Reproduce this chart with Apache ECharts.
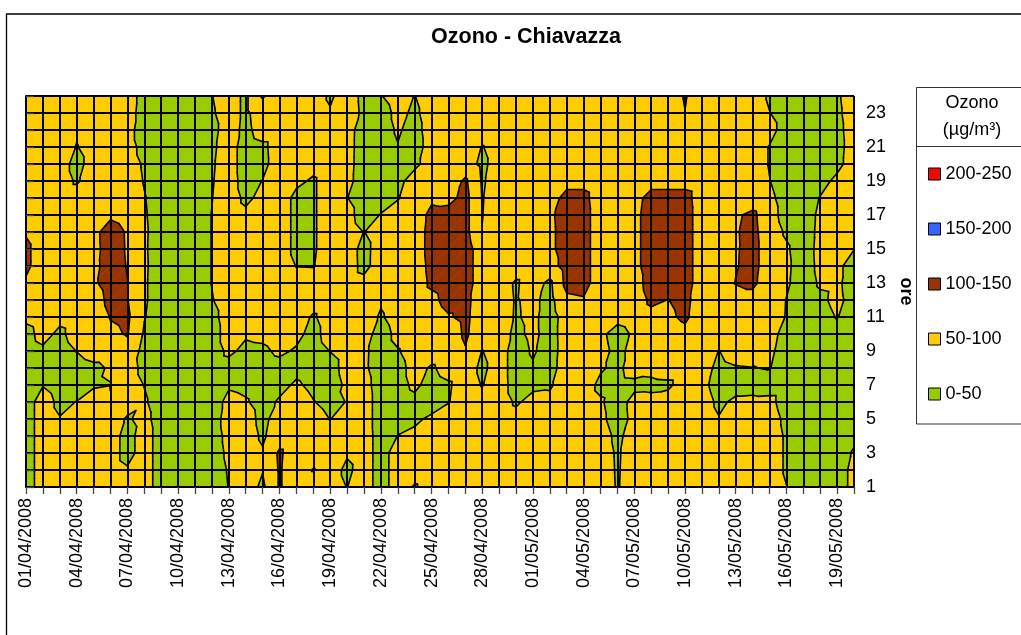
<!DOCTYPE html>
<html>
<head>
<meta charset="utf-8">
<title>Ozono - Chiavazza</title>
<script src="https://cdn.jsdelivr.net/npm/echarts@6.0.0/dist/echarts.min.js"></script>
<style>
  html, body { margin: 0; padding: 0; background: #fff; }
  #grafico { width: 1021px; height: 635px; }
</style>
</head>
<body>
<div id="grafico"></div>
<script>
// asse x: giorni, asse y: ore
const giorni = [
  '01/04/2008', '02/04/2008', '03/04/2008', '04/04/2008', '05/04/2008', '06/04/2008', '07/04/2008', '08/04/2008', '09/04/2008', '10/04/2008',
  '11/04/2008', '12/04/2008', '13/04/2008', '14/04/2008', '15/04/2008', '16/04/2008', '17/04/2008', '18/04/2008', '19/04/2008', '20/04/2008',
  '21/04/2008', '22/04/2008', '23/04/2008', '24/04/2008', '25/04/2008', '26/04/2008', '27/04/2008', '28/04/2008', '29/04/2008', '30/04/2008',
  '01/05/2008', '02/05/2008', '03/05/2008', '04/05/2008', '05/05/2008', '06/05/2008', '07/05/2008', '08/05/2008', '09/05/2008', '10/05/2008',
  '11/05/2008', '12/05/2008', '13/05/2008', '14/05/2008', '15/05/2008', '16/05/2008', '17/05/2008', '18/05/2008', '19/05/2008', '20/05/2008'
]
const ore = [1, 2, 3, 4, 5, 6, 7, 8, 9, 10, 11, 12, 13, 14, 15, 16, 17, 18, 19, 20, 21, 22, 23, 24]

// ozono (µg/m3) stimato per ora, un valore per giorno
const h01 = [30,70,70,70,70,70,70,70,30,30, 30,30,51,70,42,105,70,70,70,49, 70,32,70,46,70,70,70,70,70,70, 70,70,70,70,70,47,70,70,70,70, 70,70,70,70,70,51,30,30,30,62]
const h02 = [30,70,70,70,70,70,55,70,30,30, 30,30,53,70,52,105,70,48,70,40, 70,32,70,70,70,70,70,70,70,70, 70,70,70,70,70,46,70,70,70,70, 70,70,70,70,70,45,30,30,30,62]
const h03 = [30,70,70,70,70,70,34,70,30,30, 30,30,58,70,54,108,70,70,70,55, 70,32,70,70,70,70,70,70,70,70, 70,70,70,70,70,45,70,70,70,70, 70,70,70,70,70,45,30,30,30,55]
const h04 = [30,70,70,70,70,70,34,70,30,30, 30,30,62,70,44,72,70,70,70,70, 70,32,51,60,70,70,70,70,70,70, 70,70,70,70,70,40,70,70,70,70, 70,70,70,70,70,45,30,30,30,40]
const h05 = [30,70,52,70,70,70,45,63,30,30, 30,30,68,68,38,70,70,70,49,70, 70,30,35,42,58,70,70,70,70,62, 70,70,70,70,60,30,62,70,70,70, 70,52,70,70,70,40,30,30,30,30]
const h06 = [30,70,40,51,70,52,70,55,30,30, 30,30,62,54,35,55,70,52,35,52, 70,30,30,40,30,48,70,70,70,45, 62,60,70,70,55,30,65,62,70,70, 70,42,58,60,62,30,30,30,30,30]
const h07 = [30,48,30,35,45,49,70,49,30,30, 30,30,45,40,32,38,56,40,25,60, 65,30,35,58,35,45,70,48,70,32, 42,45,70,70,40,35,38,40,42,70, 62,32,35,35,30,30,30,30,30,30]
const h08 = [30,30,30,30,40,55,70,38,30,30, 30,30,35,30,30,35,38,30,30,70, 57,30,35,65,45,65,70,41,70,30, 45,35,70,70,55,40,70,62,70,70, 70,38,47,49,52,30,30,30,30,30]
const h09 = [30,42,30,51,70,70,85,34,30,30, 30,30,58,40,42,58,45,30,51,70, 58,30,47,70,70,70,96,49,70,30, 55,32,70,70,62,40,62,70,70,70, 70,49,70,70,58,32,30,30,30,30]
const h10 = [35,65,40,70,70,92,103,45,30,30, 30,30,70,55,60,70,62,35,70,70, 70,30,62,70,70,70,108,70,70,40, 60,33,70,70,58,35,56,70,70,85, 70,70,70,70,62,38,30,30,30,30]
const h11 = [60,70,62,70,70,102,108,52,30,30, 30,37,70,70,70,70,70,45,70,70, 70,45,70,70,70,95,112,70,70,46, 60,30,70,70,70,62,70,85,90,110, 70,70,70,70,70,48,30,35,52,30]
const h12 = [70,70,70,70,75,115,102,55,30,30, 30,48,70,70,70,70,70,70,70,70, 70,55,70,70,85,120,115,70,70,47, 60,35,90,95,70,70,70,110,99,115, 70,70,80,80,70,49,30,42,60,35]
const h13 = [92,70,70,70,93,120,101,55,30,30, 30,51,70,70,70,70,70,70,70,70, 62,70,70,70,110,125,125,70,70,45, 70,40,115,120,70,70,75,125,125,125, 70,70,102,112,70,56,30,55,58,30]
const h14 = [112,70,70,70,88,120,98,56,30,30, 30,51,70,70,70,70,49,48,70,70, 38,70,70,70,115,125,125,70,70,70, 70,80,120,120,70,70,85,125,125,125, 70,70,96,118,70,58,30,60,58,35]
const h15 = [112,70,70,70,85,122,96,55,30,30, 30,51,70,70,70,70,40,45,70,70, 37,70,70,70,120,125,125,70,70,70, 70,90,120,120,70,70,85,125,125,125, 70,70,95,118,70,55,30,62,70,51]
const h16 = [95,70,70,70,85,125,95,56,30,30, 30,51,70,70,70,70,40,45,70,70, 49,70,70,70,120,125,115,51,70,70, 70,90,120,120,70,70,85,125,125,125, 70,70,96,115,70,45,30,60,70,70]
const h17 = [70,70,70,70,70,90,75,54,30,30, 30,51,70,58,70,70,40,45,70,65, 30,52,70,70,115,120,115,49,70,70, 70,92,120,120,70,70,85,125,125,125, 70,70,92,112,65,35,30,58,70,70]
const h18 = [70,70,70,70,70,70,70,52,30,30, 30,49,70,42,60,70,40,45,70,51, 30,30,47,70,90,85,115,48,70,70, 70,80,115,115,70,70,80,120,120,120, 70,70,70,70,58,35,30,52,70,70]
const h19 = [70,70,70,45,70,70,70,48,30,30, 30,47,70,33,51,70,58,45,70,62, 30,30,37,70,70,70,108,45,70,70, 70,70,85,85,70,70,70,80,80,80, 70,70,70,70,51,30,30,35,60,70]
const h20 = [70,70,70,35,70,70,70,45,30,30, 30,45,70,30,39,70,70,62,70,64, 30,30,30,40,70,70,70,40,70,70, 70,70,70,70,70,70,70,70,70,70, 70,70,70,70,48,30,30,30,38,70]
const h21 = [70,70,70,48,70,70,70,34,30,30, 30,42,70,30,41,70,70,70,70,65, 30,30,48,30,70,70,70,48,70,70, 70,70,70,70,70,70,70,70,70,70, 70,70,70,70,48,30,30,30,35,70]
const h22 = [70,70,70,56,70,70,70,22,30,30, 30,37,70,38,70,70,70,70,70,66, 30,30,55,35,70,70,70,70,70,70, 70,70,70,70,70,70,70,70,70,70, 70,70,70,70,65,30,30,30,38,70]
const h23 = [70,70,70,70,70,70,70,30,30,30, 30,45,70,41,75,70,70,70,54,70, 42,30,62,42,70,70,70,70,70,70, 70,70,70,70,70,70,70,70,70,99, 70,70,70,70,51,30,30,30,42,70]
const h24 = [70,70,70,70,70,70,70,34,30,30, 30,49,70,41,105,70,70,70,44,70, 40,48,70,49,70,70,70,70,70,70, 70,70,70,70,70,70,70,70,70,104, 70,70,70,70,45,30,30,30,45,70]

// fasce della legenda (dall'alto in basso)
const fasce = ['200-250', '150-200', '100-150', '50-100', '0-50']
const limiti = [[200, 250], [150, 200], [100, 150], [50, 100], [0, 50]]
const isolinee = [50, 100, 150, 200]

const colori = ['#FF0000', '#3366FF', '#993300', '#FFCC00', '#99CC00']
const font = 'Liberation Sans, Arial, sans-serif'

const ozono = [h01, h02, h03, h04, h05, h06, h07, h08, h09, h10, h11, h12,
  h13, h14, h15, h16, h17, h18, h19, h20, h21, h22, h23, h24]

// una cella per ogni riquadro della griglia (giorno, ora)
const celle = []
for (let h = 1; h < ore.length; h++) {
  for (let d = 0; d < giorni.length - 1; d++) celle.push([d, ore[h - 1]])
}

function nodo(d, h) {
  return [d, h, ozono[h - 1][d]]
}

// ogni cella divisa in due triangoli lungo la diagonale "/"
function triangoli(d, h) {
  const a = nodo(d, h), b = nodo(d + 1, h), c = nodo(d + 1, h + 1), e = nodo(d, h + 1)
  return [[a, b, c], [a, c, e]]
}

function taglia(poly, soglia, sopra) {
  const out = []
  for (let i = 0; i < poly.length; i++) {
    const p = poly[i], q = poly[(i + 1) % poly.length]
    const pin = sopra ? p[2] >= soglia : p[2] <= soglia
    const qin = sopra ? q[2] >= soglia : q[2] <= soglia
    if (pin) out.push(p)
    if (pin !== qin) {
      const t = (soglia - p[2]) / (q[2] - p[2])
      out.push([p[0] + t * (q[0] - p[0]), p[1] + t * (q[1] - p[1]), soglia])
    }
  }
  return out
}

function disegnaFascia(api, lo, hi, colore) {
  const d = api.value(0), h = api.value(1)
  const children = []
  triangoli(d, h).forEach(tri => {
    let p = taglia(tri, lo, true)
    if (p.length >= 3) p = taglia(p, hi, false)
    if (p.length >= 3) {
      children.push({
        type: 'polygon',
        shape: { points: p.map(pt => api.coord([pt[0], pt[1]])) },
        // bordo dello stesso colore per chiudere le fessure tra i triangoli
        style: { fill: colore, stroke: colore, lineWidth: 0.8 }
      })
    }
  })
  return { type: 'group', children }
}

function disegnaIsolinee(api) {
  const d = api.value(0), h = api.value(1)
  const children = []
  triangoli(d, h).forEach(tri => {
    isolinee.forEach(liv => {
      const pts = []
      for (let i = 0; i < 3; i++) {
        const p = tri[i], q = tri[(i + 1) % 3]
        if ((p[2] - liv) * (q[2] - liv) < 0) {
          const t = (liv - p[2]) / (q[2] - p[2])
          pts.push(api.coord([p[0] + t * (q[0] - p[0]), p[1] + t * (q[1] - p[1])]))
        }
      }
      if (pts.length === 2) {
        children.push({
          type: 'line',
          shape: { x1: pts[0][0], y1: pts[0][1], x2: pts[1][0], y2: pts[1][1] },
          style: { stroke: '#000', lineWidth: 1.6, lineCap: 'round' }
        })
      }
    })
  })
  return { type: 'group', children }
}

const serie = fasce.map((nome, i) => ({
  name: nome,
  type: 'custom',
  data: celle,
  encode: { x: 0, y: 1 },
  itemStyle: { color: colori[i] },
  silent: true,
  z: 2,
  renderItem: (params, api) => disegnaFascia(api, limiti[i][0], limiti[i][1], colori[i])
}))
serie.push({
  name: 'isolinee',
  type: 'custom',
  data: celle,
  encode: { x: 0, y: 1 },
  silent: true,
  z: 3,
  renderItem: (params, api) => disegnaIsolinee(api)
})

const chart = echarts.init(document.getElementById('grafico'))
chart.setOption({
  animation: false,
  backgroundColor: '#fff',
  title: {
    text: 'Ozono - Chiavazza',
    left: 521,
    top: 21,
    textAlign: 'center',
    textStyle: { fontFamily: font, fontSize: 21.5, fontWeight: 'bold', color: '#000' }
  },
  grid: { left: 26, top: 96, width: 828, height: 391 },
  xAxis: {
    type: 'value',
    min: 0,
    max: giorni.length - 1,
    interval: 1,
    z: 10,
    axisLine: { show: true, lineStyle: { color: '#000', width: 2 } },
    axisTick: { show: true, length: 7, lineStyle: { color: '#444', width: 1.3 } },
    axisLabel: {
      rotate: 90,
      margin: 11,
      color: '#000',
      fontFamily: font,
      fontSize: 18,
      formatter: v => (v % 3 === 0 ? giorni[v] : '')
    },
    splitLine: { show: true, lineStyle: { color: '#000', width: 2 } }
  },
  yAxis: {
    type: 'value',
    position: 'right',
    min: ore[0],
    max: ore[ore.length - 1],
    interval: 1,
    z: 10,
    name: 'ore',
    nameLocation: 'middle',
    nameRotate: -90,
    nameGap: 23,
    nameTextStyle: { fontFamily: font, fontSize: 18, fontWeight: 'bold', color: '#000' },
    axisLine: { show: true, lineStyle: { color: '#000', width: 2 } },
    axisTick: { show: true, length: 8, lineStyle: { color: '#444', width: 1.3 } },
    axisLabel: {
      margin: 12,
      color: '#000',
      fontFamily: font,
      fontSize: 18,
      formatter: v => (v % 2 === 1 ? String(v) : '')
    },
    splitLine: { show: true, lineStyle: { color: '#000', width: 2 } }
  },
  legend: {
    data: fasce,
    orient: 'vertical',
    left: 928,
    top: 165,
    padding: 0,
    icon: 'rect',
    itemWidth: 12,
    itemHeight: 12,
    itemGap: 37,
    itemStyle: { borderColor: '#000', borderWidth: 1 },
    textStyle: { fontFamily: font, fontSize: 18, lineHeight: 18, color: '#000' },
    selectedMode: false
  },
  graphic: [
    { type: 'rect', shape: { x: 6.5, y: 14, width: 1100, height: 700 },
      style: { fill: 'none', stroke: '#000', lineWidth: 1.3 }, silent: true },
    { type: 'rect', shape: { x: 916.5, y: 87.5, width: 200, height: 336.5 },
      style: { fill: 'none', stroke: '#333', lineWidth: 1 }, silent: true },
    { type: 'line', shape: { x1: 916.5, y1: 146.5, x2: 1021, y2: 146.5 },
      style: { stroke: '#333', lineWidth: 1 }, silent: true },
    { type: 'text', x: 972, y: 103, silent: true,
      style: { text: 'Ozono', fontFamily: font, fontSize: 18, fill: '#000', textAlign: 'center', textVerticalAlign: 'middle' } },
    { type: 'text', x: 972, y: 130, silent: true,
      style: { text: '(µg/m³)', fontFamily: font, fontSize: 18, fill: '#000', textAlign: 'center', textVerticalAlign: 'middle' } }
  ],
  series: serie
})
</script>
</body>
</html>
